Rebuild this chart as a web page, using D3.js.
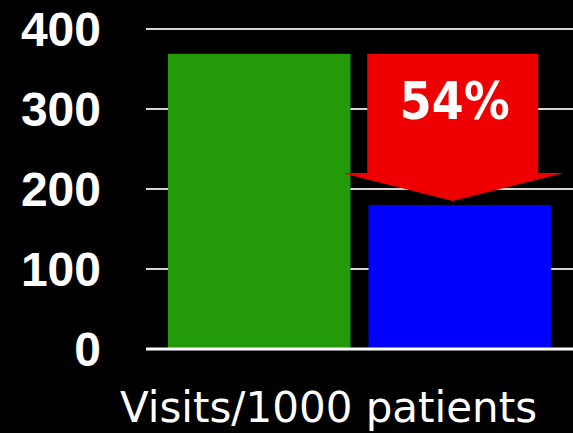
<!DOCTYPE html>
<html><head><meta charset="utf-8">
<script src="https://cdn.jsdelivr.net/npm/d3@7"></script>
<style>html,body{margin:0;padding:0;background:#000;}svg{display:block;}</style>
</head><body>
<script>
const categories = ["Before", "After"];
const values = [369, 180];
const barColors = ["#229a0a", "#0000ff"];
const yTicks = [0, 100, 200, 300, 400];
const axisTitle = "Visits/1000 patients";
const arrowFrom = 369, arrowShoulder = 220, arrowTip = 185;
const arrowLabel = "54%";

const W = 573, H = 433;
const svg = d3.select("body").append("svg").attr("width", W).attr("height", H)
  .style("background", "#000");

const x = d3.scaleBand().domain(categories).range([168, 551]).paddingInner(0.09).paddingOuter(0);
const y = d3.scaleLinear().domain([0, 400]).range([349, 29]);

// gridlines
svg.append("g").selectAll("line").data(yTicks.filter(d => d > 0)).join("line")
  .attr("x1", 146).attr("x2", W)
  .attr("y1", d => y(d)).attr("y2", d => y(d))
  .attr("stroke", "#d4d4d4").attr("stroke-width", 2);

// tick labels
svg.append("g").selectAll("text").data(yTicks).join("text")
  .attr("x", 101).attr("y", d => y(d))
  .attr("dy", "0.35em")
  .attr("text-anchor", "end")
  .attr("font-family", "Liberation Sans, Arial, sans-serif")
  .attr("font-weight", "bold")
  .attr("font-size", 48)
  .attr("fill", "#fff")
  .text(d => d);

// bars
svg.append("g").selectAll("rect").data(values).join("rect")
  .attr("x", (d, i) => x(categories[i]))
  .attr("width", x.bandwidth())
  .attr("y", d => y(d))
  .attr("height", d => y(0) - y(d))
  .attr("fill", (d, i) => barColors[i]);

// zero line
svg.append("line").attr("x1", 146).attr("x2", W)
  .attr("y1", y(0)).attr("y2", y(0))
  .attr("stroke", "#fff").attr("stroke-width", 3);

// arrow
const cx = x(categories[1]) + x.bandwidth() / 2 - 7;
const bodyHalf = 85.5, headHalf = 111;
const pts = [
  [cx - bodyHalf, y(arrowFrom)],
  [cx + bodyHalf, y(arrowFrom)],
  [cx + bodyHalf, y(arrowShoulder)],
  [cx + headHalf, y(arrowShoulder)],
  [cx, y(arrowTip)],
  [cx - headHalf, y(arrowShoulder)],
  [cx - bodyHalf, y(arrowShoulder)]
];
svg.append("path").attr("d", d3.line()(pts) + "Z").attr("fill", "#ee0000");

svg.append("text").attr("x", cx + 2).attr("y", 119)
  .attr("text-anchor", "middle")
  .attr("font-family", "DejaVu Sans Condensed, DejaVu Sans, sans-serif")
  .attr("font-stretch", "condensed")
  .attr("font-weight", "bold")
  .attr("font-size", 51)
  .attr("fill", "#fff")
  .text(arrowLabel);

// axis title
svg.append("text").attr("x", 328.5).attr("y", 422)
  .attr("text-anchor", "middle")
  .attr("font-family", "DejaVu Sans, sans-serif")
  .attr("font-size", 42)
  .attr("fill", "#fff")
  .text(axisTitle);
</script>
</body></html>
